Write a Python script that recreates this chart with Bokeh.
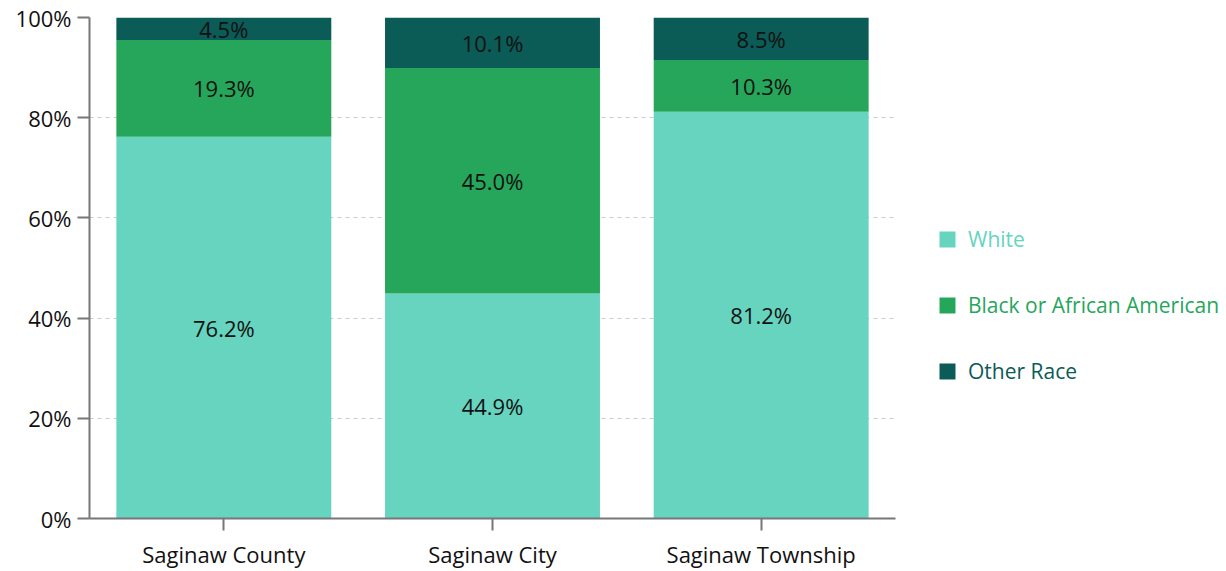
from bokeh.plotting import figure
from bokeh.models import (ColumnDataSource, FactorRange, Range1d, Legend, LegendItem, LabelSet,
                          PrintfTickFormatter, FixedTicker)
from bokeh.layouts import row
from bokeh.embed import file_html
from bokeh.resources import INLINE
from bokeh.core.properties import value

places = ["Saginaw County", "Saginaw City", "Saginaw Township"]
series = ["White", "Black or African American", "Other Race"]
white = [76.2, 44.9, 81.2]
black = [19.3, 45.0, 10.3]
other = [4.5, 10.1, 8.5]
colors = ["#66D4BF", "#26A65B", "#0B5B57"]
y_ticks = [0, 20, 40, 60, 80, 100]

FONT = "Open Sans"

src = ColumnDataSource(dict(place=places, White=white, Black=black, Other=other))

p = figure(x_range=FactorRange(*places), y_range=Range1d(0, 100),
           width=900, height=571, toolbar_location=None, output_backend="svg",
           min_border_left=89, min_border_top=17, min_border_bottom=49, min_border_right=5)
p.outline_line_color = None

rs = p.vbar_stack(["White", "Black", "Other"], x="place", width=0.8, source=src,
                  color=colors, line_color=None)

# segment label positions computed from data
mids, vals, xs = [], [], []
for i, pl in enumerate(places):
    base = 0.0
    for v in (white[i], black[i], other[i]):
        xs.append(pl)
        mids.append(base + v / 2)
        vals.append(f"{v:.1f}%")
        base += v
lsrc = ColumnDataSource(dict(x=xs, y=mids, t=vals))
p.add_layout(LabelSet(x="x", y="y", text="t", source=lsrc, text_align="center",
                      text_baseline="middle", text_color="#111111",
                      text_font=value(FONT), text_font_size="22px"))

p.xgrid.grid_line_color = None
p.ygrid.ticker = FixedTicker(ticks=y_ticks)
p.ygrid.grid_line_color = "#cccccc"
p.ygrid.grid_line_dash = "4 4"
p.ygrid.grid_line_width = 1

p.yaxis.ticker = FixedTicker(ticks=y_ticks)
p.yaxis.formatter = PrintfTickFormatter(format="%d%%")
for ax in (p.xaxis[0], p.yaxis[0]):
    ax.axis_line_color = "#777777"
    ax.axis_line_width = 2
    ax.major_tick_line_color = "#777777"
    ax.major_tick_line_width = 2
    ax.major_tick_in = 0
    ax.minor_tick_line_color = None
    ax.major_label_text_font = FONT
    ax.major_label_text_font_size = "22px"
    ax.major_label_text_color = "#111111"
p.yaxis.major_tick_out = 12
p.yaxis.major_label_standoff = 6
p.xaxis.major_tick_out = 12
p.xaxis.major_label_standoff = 8

# legend panel: one legend per series so each label carries its series colour.
# The swatch renderers have zero height and lie outside both ranges, so only the legend shows.
lf = figure(width=326, height=571, toolbar_location=None, output_backend="svg",
            x_range=Range1d(-2, -1), y_range=Range1d(-2, -1),
            x_axis_location=None, y_axis_location=None, min_border=0)
lf.grid.visible = False
lf.outline_line_color = None
ypos = [265, 199, 133]
for name, field, c, yy in zip(series, ["White", "Black", "Other"], colors, ypos):
    r = lf.vbar(x=field, top=field, bottom=field, width=0.8, source=src,
                color=c, line_color=None)
    leg = Legend(items=[LegendItem(label=name, renderers=[r])], location=(37, yy),
                 label_text_color=c, label_text_font=FONT, label_text_font_size="21px",
                 background_fill_alpha=0, border_line_alpha=0, padding=0, margin=0,
                 glyph_width=20, glyph_height=20, label_standoff=11, label_height=20)
    lf.add_layout(leg)

layout = row(p, lf)
open("out.html", "w").write(file_html(layout, INLINE))
